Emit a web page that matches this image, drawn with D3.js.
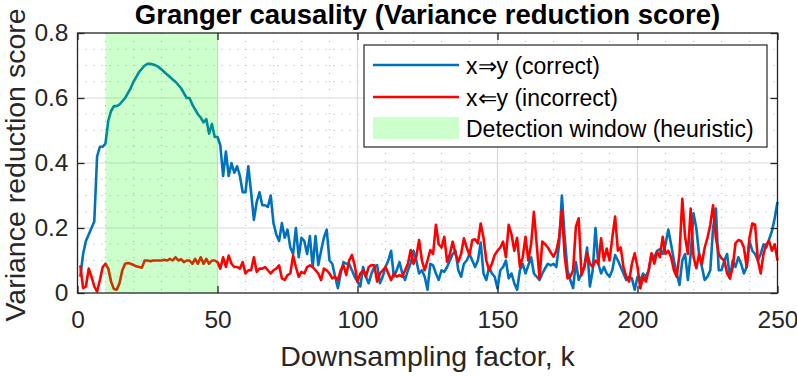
<!DOCTYPE html>
<html>
<head>
<meta charset="utf-8">
<script src="https://cdn.jsdelivr.net/npm/d3@7"></script>
<style>
  body { margin: 0; background: #fff; }
  svg text { font-family: "Liberation Sans", Arial, Helvetica, sans-serif; fill: #262626; }
</style>
</head>
<body>
<div id="canvas"></div>
<script>
// data, k = 1..250
const correct = [
  0.05,0.12,0.16,0.18,0.20,0.22,0.42,0.45,0.45,0.46,
  0.53,0.56,0.575,0.575,0.58,0.59,0.60,0.615,0.63,0.65,
  0.665,0.68,0.69,0.70,0.705,0.705,0.703,0.70,0.695,0.688,
  0.68,0.672,0.665,0.657,0.65,0.64,0.63,0.615,0.60,0.60,
  0.58,0.565,0.55,0.54,0.525,0.535,0.49,0.52,0.48,0.48,
  0.455,0.36,0.435,0.36,0.40,0.37,0.39,0.36,0.31,0.31,
  0.39,0.31,0.225,0.28,0.31,0.27,0.27,0.265,0.30,0.215,
  0.18,0.16,0.215,0.17,0.195,0.14,0.12,0.20,0.11,0.17,
  0.16,0.12,0.175,0.08,0.175,0.086,0.13,0.17,0.195,0.10,
  0.09,0.05,0.015,0.06,0.095,0.09,0.09,0.07,0.05,0.035,
  0.02,0.08,0.05,0.03,0.06,0.08,0.086,0.03,0.05,0.08,
  0.10,0.13,0.05,0.07,0.095,0.06,0.04,0.07,0.092,0.13,
  0.10,0.06,0.07,0.05,0.01,0.09,0.085,0.06,0.04,0.07,
  0.065,0.08,0.10,0.12,0.13,0.07,0.05,0.09,0.10,0.12,
  0.10,0.08,0.10,0.155,0.06,0.04,0.08,0.06,0.05,0.014,
  0.07,0.08,0.10,0.045,0.06,0.03,0.01,0.07,0.09,0.06,
  0.085,0.11,0.06,0.05,0.04,0.06,0.076,0.09,0.085,0.09,
  0.08,0.15,0.30,0.17,0.07,0.04,0.015,0.095,0.04,0.06,
  0.08,0.14,0.02,0.07,0.20,0.09,0.06,0.08,0.06,0.05,
  0.07,0.117,0.10,0.08,0.06,0.04,0.05,0.045,0.01,0.05,
  0.04,0.06,0.05,0.07,0.12,0.11,0.13,0.135,0.12,0.15,
  0.195,0.15,0.10,0.06,0.025,0.10,0.12,0.04,0.12,0.245,
  0.20,0.12,0.08,0.04,0.05,0.07,0.20,0.26,0.07,0.07,
  0.10,0.12,0.045,0.10,0.08,0.11,0.09,0.06,0.08,0.16,
  0.13,0.12,0.10,0.12,0.15,0.14,0.165,0.19,0.23,0.28
];
const incorrect = [
  0.085,0.015,0.02,0.075,0.05,0.02,0.004,0.04,0.08,0.09,
  0.075,0.035,0.012,0.01,0.03,0.07,0.09,0.092,0.09,0.086,
  0.082,0.08,0.078,0.10,0.10,0.098,0.10,0.10,0.10,0.10,
  0.102,0.10,0.105,0.10,0.11,0.10,0.104,0.095,0.10,0.10,
  0.09,0.105,0.09,0.11,0.09,0.105,0.09,0.10,0.10,0.095,
  0.075,0.11,0.08,0.115,0.09,0.08,0.08,0.075,0.095,0.06,
  0.07,0.07,0.11,0.065,0.075,0.075,0.08,0.07,0.06,0.07,
  0.075,0.085,0.045,0.04,0.055,0.06,0.115,0.08,0.05,0.065,
  0.06,0.08,0.085,0.08,0.07,0.06,0.04,0.075,0.07,0.06,
  0.045,0.05,0.04,0.07,0.085,0.055,0.10,0.117,0.085,0.035,
  0.06,0.07,0.05,0.08,0.086,0.085,0.035,0.06,0.07,0.08,
  0.06,0.04,0.06,0.05,0.055,0.05,0.07,0.09,0.132,0.09,
  0.112,0.163,0.10,0.07,0.10,0.132,0.12,0.21,0.15,0.14,
  0.173,0.096,0.12,0.158,0.12,0.096,0.12,0.168,0.14,0.117,
  0.163,0.165,0.153,0.214,0.17,0.10,0.07,0.09,0.117,0.13,
  0.14,0.158,0.11,0.21,0.18,0.13,0.17,0.08,0.11,0.173,
  0.10,0.15,0.25,0.15,0.045,0.158,0.15,0.14,0.125,0.112,
  0.13,0.17,0.255,0.112,0.045,0.05,0.07,0.204,0.23,0.055,
  0.08,0.122,0.09,0.08,0.10,0.09,0.168,0.10,0.137,0.10,
  0.17,0.235,0.13,0.14,0.08,0.05,0.035,0.09,0.122,0.08,
  0.014,0.05,0.035,0.07,0.122,0.09,0.127,0.11,0.173,0.12,
  0.13,0.11,0.07,0.05,0.12,0.29,0.173,0.12,0.26,0.112,
  0.076,0.12,0.09,0.14,0.17,0.21,0.27,0.17,0.12,0.107,
  0.10,0.06,0.045,0.08,0.153,0.163,0.16,0.14,0.08,0.17,
  0.214,0.21,0.10,0.06,0.12,0.15,0.16,0.13,0.15,0.10
];
const xTicks = [0, 50, 100, 150, 200, 250];
const yTicks = [0, 0.2, 0.4, 0.6, 0.8];
const detectionWindow = [10, 50];
const legendLabels = ["x\u21D2y (correct)", "x\u21D0y (incorrect)", "Detection window (heuristic)"];

const w = 797, h = 376;
const margin = {left: 77.5, right: 19.5, top: 33, bottom: 83};

let svg = d3.select("#canvas")
            .append("svg")
                .attr("width", w)
                .attr("height", h)
                .attr("viewBox", [0, 0, w, h]);

let x = d3.scaleLinear().domain([0, 250]).range([margin.left, w - margin.right]);
let y = d3.scaleLinear().domain([0, 0.8]).range([h - margin.bottom, margin.top]);

const x0 = x(0), x1 = x(250), y0 = y(0), y1 = y(0.8);

// minor grid (dotted)
let grid = svg.append("g");
grid.selectAll(".mx")
    .data(d3.range(10, 250, 10).filter(v => v % 50 != 0))
  .enter().append("line")
    .attr("x1", d => x(d)).attr("x2", d => x(d))
    .attr("y1", y1).attr("y2", y0)
    .attr("stroke", "#b0b0b0").attr("stroke-width", 1)
    .attr("stroke-dasharray", "1,7");
grid.selectAll(".my")
    .data(d3.range(1, 16).map(i => i * 0.05).filter((v, i) => (i + 1) % 4 != 0))
  .enter().append("line")
    .attr("x1", x0).attr("x2", x1)
    .attr("y1", d => y(d)).attr("y2", d => y(d))
    .attr("stroke", "#b0b0b0").attr("stroke-width", 1)
    .attr("stroke-dasharray", "1,7");
// major grid
grid.selectAll(".gx")
    .data(xTicks.slice(1, -1))
  .enter().append("line")
    .attr("x1", d => x(d)).attr("x2", d => x(d))
    .attr("y1", y1).attr("y2", y0)
    .attr("stroke", "#d9d9d9").attr("stroke-width", 1.2);
grid.selectAll(".gy")
    .data(yTicks.slice(1, -1))
  .enter().append("line")
    .attr("x1", x0).attr("x2", x1)
    .attr("y1", d => y(d)).attr("y2", d => y(d))
    .attr("stroke", "#d9d9d9").attr("stroke-width", 1.2);

// lines
let line = d3.line()
    .x((d, i) => x(i + 1))
    .y(d => y(d));

svg.append("path")
    .datum(correct)
    .attr("d", line)
    .attr("fill", "none")
    .attr("stroke", "#0072BD")
    .attr("stroke-width", 2.6)
    .attr("stroke-linejoin", "round");
svg.append("path")
    .datum(incorrect)
    .attr("d", line)
    .attr("fill", "none")
    .attr("stroke", "#FF0000")
    .attr("stroke-width", 2.6)
    .attr("stroke-linejoin", "round");

// detection window patch, on top of the lines
svg.append("rect")
    .attr("x", x(detectionWindow[0]))
    .attr("y", y1)
    .attr("width", x(detectionWindow[1]) - x(detectionWindow[0]))
    .attr("height", y0 - y1)
    .attr("fill", "#00ff00")
    .attr("fill-opacity", 0.2);

// axes (ticks inside, box)
let xAxis = d3.axisBottom(x).tickValues(xTicks).tickSize(-7).tickPadding(18).tickFormat(d3.format("d"));
let yAxis = d3.axisLeft(y).tickValues(yTicks).tickSize(-7).tickPadding(9).tickFormat(d => d == 0 ? "0" : d3.format(".1f")(d));

let gX = svg.append("g")
    .attr("transform", "translate(0," + y0 + ")")
    .call(xAxis);
let gY = svg.append("g")
    .attr("transform", "translate(" + x0 + ",0)")
    .call(yAxis);
svg.append("g")
    .attr("transform", "translate(0," + y1 + ")")
    .call(d3.axisTop(x).tickValues(xTicks).tickSize(-7).tickFormat(""));
svg.append("g")
    .attr("transform", "translate(" + x1 + ",0)")
    .call(d3.axisRight(y).tickValues(yTicks).tickSize(-7).tickFormat(""));

svg.selectAll(".domain").remove();
svg.selectAll(".tick line").attr("stroke", "#262626").attr("stroke-width", 1.3);
svg.selectAll(".tick text")
    .attr("font-family", "'Liberation Sans', Arial, sans-serif")
    .attr("font-size", 24.5)
    .attr("fill", "#262626");

svg.append("rect")
    .attr("x", x0).attr("y", y1)
    .attr("width", x1 - x0).attr("height", y0 - y1)
    .attr("fill", "none")
    .attr("stroke", "#262626")
    .attr("stroke-width", 1.3);

// title and labels
svg.append("text")
    .attr("x", (x0 + x1) / 2).attr("y", 24)
    .attr("text-anchor", "middle")
    .attr("font-size", 27.5)
    .attr("font-weight", "bold")
    .style("fill", "#000")
    .text("Granger causality (Variance reduction score)");
svg.append("text")
    .attr("x", (x0 + x1) / 2).attr("y", 366)
    .attr("text-anchor", "middle")
    .attr("font-size", 28.5)
    .text("Downsampling factor, k");
svg.append("text")
    .attr("transform", "translate(25," + ((y0 + y1) / 2 + 2) + ") rotate(-90)")
    .attr("text-anchor", "middle")
    .attr("font-size", 28.5)
    .text("Variance reduction score");

// legend
let lg = svg.append("g").attr("transform", "translate(364,45)");
lg.append("rect")
    .attr("width", 403).attr("height", 102)
    .attr("fill", "#fff")
    .attr("stroke", "#262626")
    .attr("stroke-width", 1.2);
const legendY = [20, 52, 83];
lg.append("line").attr("x1", 9).attr("x2", 95).attr("y1", legendY[0]).attr("y2", legendY[0])
    .attr("stroke", "#0072BD").attr("stroke-width", 2.6);
lg.append("line").attr("x1", 9).attr("x2", 95).attr("y1", legendY[1]).attr("y2", legendY[1])
    .attr("stroke", "#FF0000").attr("stroke-width", 2.6);
lg.append("rect").attr("x", 9).attr("y", legendY[2] - 11).attr("width", 86).attr("height", 22)
    .attr("fill", "#00ff00").attr("fill-opacity", 0.2);
lg.selectAll(".lt")
    .data(legendLabels)
  .enter().append("text")
    .attr("x", 102)
    .attr("y", (d, i) => legendY[i] + 9)
    .attr("font-size", 23)
    .style("fill", "#000")
    .text(d => d);
</script>
</body>
</html>
